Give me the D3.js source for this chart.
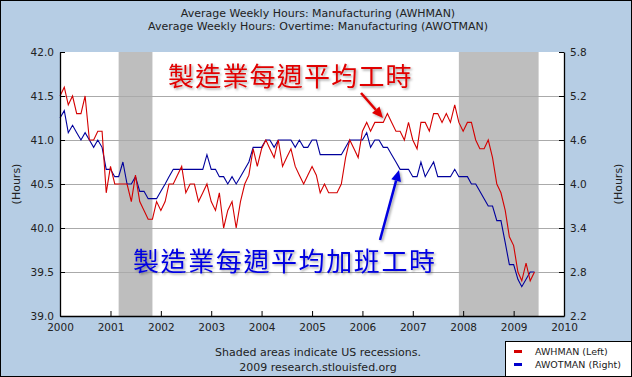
<!DOCTYPE html>
<html lang="zh-Hant">
<head>
    <meta charset="UTF-8">
    <title>Average Weekly Hours: Manufacturing</title>
    <script src="https://d3js.org/d3.v7.min.js"></script>
    <style>
        body { margin: 0; }
        svg { display: block; font-family: "DejaVu Sans", Verdana, sans-serif; }
    </style>
</head>
<body>
    <svg width="632" height="377"></svg>

    <script>
        // monthly values, Jan 2000 - Jun 2009
        let startMonth = new Date(2000, 0, 1);
        let awhman = [
            41.5, 41.6, 41.4, 41.5, 41.3, 41.3, 41.5, 41.0, 41.0, 41.1, 41.1, 40.4,
            40.7, 40.5, 40.5, 40.5, 40.5, 40.3, 40.6, 40.3, 40.2, 40.1, 40.1, 40.3,
            40.2, 40.3, 40.5, 40.5, 40.6, 40.7, 40.4, 40.5, 40.5, 40.3, 40.4, 40.5,
            40.3, 40.2, 40.4, 40.0, 40.2, 40.3, 40.0, 40.3, 40.5, 40.6, 40.9, 40.7,
            40.9, 41.0, 40.9, 40.8, 41.0, 40.7, 40.8, 40.9, 40.7, 40.6, 40.5, 40.6,
            40.7, 40.6, 40.4, 40.5, 40.4, 40.4, 40.4, 40.5, 40.8, 41.0, 40.9, 40.8,
            41.1, 41.2, 41.1, 41.2, 41.2, 41.2, 41.3, 41.2, 41.1, 41.1, 41.0, 41.2,
            41.0, 40.9, 41.2, 41.2, 41.1, 41.3, 41.3, 41.2, 41.3, 41.2, 41.4, 41.2,
            41.1, 41.2, 41.2, 41.0, 40.9, 40.9, 41.0, 40.8, 40.5, 40.4, 40.2, 39.9,
            39.8, 39.5, 39.4, 39.6, 39.4, 39.5
        ];
        let awotman = [
            4.9, 5.0, 4.7, 4.8, 4.7, 4.6, 4.7, 4.6, 4.5, 4.6, 4.5, 4.2,
            4.2, 4.1, 4.1, 4.3, 4.0, 4.0, 4.1, 3.9, 3.9, 3.8, 3.8, 3.8,
            3.9, 4.0, 4.1, 4.2, 4.2, 4.2, 4.2, 4.2, 4.2, 4.2, 4.2, 4.4,
            4.2, 4.2, 4.1, 4.1, 4.0, 4.1, 4.0, 4.1, 4.2, 4.3, 4.5, 4.5,
            4.5, 4.6, 4.6, 4.5, 4.6, 4.6, 4.6, 4.6, 4.5, 4.6, 4.5, 4.5,
            4.6, 4.6, 4.4, 4.4, 4.4, 4.4, 4.4, 4.4, 4.5, 4.6, 4.6, 4.6,
            4.6, 4.7, 4.5, 4.6, 4.6, 4.5, 4.5, 4.4, 4.3, 4.2, 4.2, 4.2,
            4.1, 4.1, 4.3, 4.1, 4.2, 4.3, 4.1, 4.1, 4.1, 4.1, 4.2, 4.1,
            4.1, 4.1, 4.0, 4.0, 3.9, 3.8, 3.7, 3.7, 3.5, 3.5, 3.2, 2.9,
            2.9, 2.7, 2.6, 2.7, 2.8, 2.8
        ];
        let recessions = [
            ["2001-03-01", "2001-11-01"],
            ["2007-12-01", "2009-07-01"]
        ];
        let leftTicks = [39.0, 39.5, 40.0, 40.5, 41.0, 41.5, 42.0];
        let rightTicks = [2.2, 2.8, 3.4, 4.0, 4.6, 5.2, 5.8];
        let years = d3.range(2000, 2011);
        let titles = [
            "Average Weekly Hours: Manufacturing (AWHMAN)",
            "Average Weekly Hours: Overtime: Manufacturing (AWOTMAN)"
        ];
        let redNote = "製造業每週平均工時";
        let blueNote = "製造業每週平均加班工時";

        let width = 632, height = 377;
        let margin = { top: 52, right: 68, bottom: 61, left: 60 };
        let lineRed = "#d40000", lineBlue = "#00009c";

        let svg = d3.select("svg");

        let defs = svg.append("defs");
        let f = defs.append("filter").attr("id", "shadow")
            .attr("x", "-10%").attr("y", "-20%").attr("width", "130%").attr("height", "160%");
        f.append("feDropShadow").attr("dx", 1.5).attr("dy", 1.5)
            .attr("stdDeviation", 1.2).attr("flood-color", "#000").attr("flood-opacity", 0.35);

        svg.append("rect")
            .attr("x", 0.5).attr("y", 0.5)
            .attr("width", width - 1).attr("height", height - 1)
            .attr("fill", "#b6cde4").attr("stroke", "#000");

        let x = d3.scaleTime()
            .domain([new Date(2000, 0, 1), new Date(2010, 0, 1)])
            .range([margin.left, width - margin.right]);
        let yL = d3.scaleLinear().domain([39, 42]).range([height - margin.bottom, margin.top]);
        let yR = d3.scaleLinear().domain([2.2, 5.8]).range([height - margin.bottom, margin.top]);

        let months = awhman.map((d, i) => d3.timeMonth.offset(startMonth, i));

        // plot background
        svg.append("rect")
            .attr("x", margin.left).attr("y", margin.top)
            .attr("width", width - margin.left - margin.right)
            .attr("height", height - margin.top - margin.bottom)
            .attr("fill", "#fff");

        // recessions
        svg.selectAll(".rec")
            .data(recessions)
            .enter().append("rect")
            .attr("x", d => x(new Date(d[0])))
            .attr("width", d => x(new Date(d[1])) - x(new Date(d[0])))
            .attr("y", margin.top)
            .attr("height", height - margin.top - margin.bottom)
            .attr("fill", "#bebebe");

        // gridlines
        svg.selectAll(".grid")
            .data(leftTicks.slice(1, -1))
            .enter().append("line")
            .attr("x1", margin.left).attr("x2", width - margin.right)
            .attr("y1", d => Math.round(yL(d)) + 0.5).attr("y2", d => Math.round(yL(d)) + 0.5)
            .attr("stroke", "#aaaaaa");

        // series
        let lineL = d3.line().x((d, i) => x(months[i])).y(d => yL(d));
        let lineR = d3.line().x((d, i) => x(months[i])).y(d => yR(d));
        svg.append("path").datum(awotman)
            .attr("d", lineR).attr("fill", "none")
            .attr("stroke", lineBlue).attr("stroke-width", 1.1);
        svg.append("path").datum(awhman)
            .attr("d", lineL).attr("fill", "none")
            .attr("stroke", lineRed).attr("stroke-width", 1.1);

        // axes
        function styleAxis(g) {
            g.selectAll("path, line").attr("stroke", "#000");
            g.selectAll("text").attr("fill", "#222").style("font-size", "10.5px")
                .style("font-family", "'DejaVu Sans', Verdana, sans-serif");
        }
        svg.append("g")
            .attr("transform", `translate(${margin.left},0)`)
            .call(d3.axisLeft(yL).tickValues(leftTicks).tickFormat(d3.format(".1f"))
                .tickSize(-5).tickSizeOuter(0).tickPadding(6))
            .call(styleAxis);
        svg.append("g")
            .attr("transform", `translate(${width - margin.right},0)`)
            .call(d3.axisRight(yR).tickValues(rightTicks).tickFormat(d3.format(".1f"))
                .tickSize(-5).tickSizeOuter(0).tickPadding(6))
            .call(styleAxis);
        svg.append("g")
            .attr("transform", `translate(0,${height - margin.bottom})`)
            .call(d3.axisBottom(x).tickValues(years.map(y => new Date(y, 0, 1)))
                .tickFormat(d3.timeFormat("%Y"))
                .tickSize(-5).tickSizeOuter(0).tickPadding(8))
            .call(styleAxis);
        svg.selectAll(".domain").attr("stroke-width", 1.3);

        // axis titles
        svg.append("text")
            .attr("transform", `translate(16,${(margin.top + height - margin.bottom) / 2}) rotate(-90)`)
            .attr("text-anchor", "middle").attr("dy", "0.35em")
            .style("font-size", "11px").attr("fill", "#222").text("(Hours)");
        svg.append("text")
            .attr("transform", `translate(618,${(margin.top + height - margin.bottom) / 2}) rotate(-90)`)
            .attr("text-anchor", "middle").attr("dy", "0.35em")
            .style("font-size", "11px").attr("fill", "#222").text("(Hours)");

        // titles
        svg.selectAll(".title")
            .data(titles)
            .enter().append("text")
            .attr("x", 318).attr("y", (d, i) => 17 + i * 13)
            .attr("text-anchor", "middle")
            .style("font-size", "11px").attr("fill", "#222")
            .text(d => d);

        // footer
        svg.append("text").attr("x", 318).attr("y", 356)
            .attr("text-anchor", "middle").style("font-size", "11px").attr("fill", "#222")
            .text("Shaded areas indicate US recessions.");
        svg.append("text").attr("x", 318).attr("y", 371)
            .attr("text-anchor", "middle").style("font-size", "11px").attr("fill", "#222")
            .text("2009 research.stlouisfed.org");

        // legend
        let lg = svg.append("g").attr("transform", "translate(505,341)");
        lg.append("rect").attr("x", 0.5).attr("y", 0.5).attr("width", 126).attr("height", 35)
            .attr("fill", "#fff").attr("stroke", "#000");
        [["AWHMAN (Left)", lineRed], ["AWOTMAN (Right)", "#0000cc"]].forEach((d, i) => {
            lg.append("rect").attr("x", 9).attr("y", 9 + i * 13).attr("width", 8).attr("height", 3)
                .attr("fill", d[1]);
            lg.append("text").attr("x", 30).attr("y", 14 + i * 13)
                .style("font-size", "9.5px").attr("fill", "#222").text(d[0]);
        });

        // annotations
        function arrow(x1, y1, x2, y2, color) {
            let a = Math.atan2(y2 - y1, x2 - x1);
            let hl = 11, hw = 5;
            let bx = x2 - hl * Math.cos(a), by = y2 - hl * Math.sin(a);
            let g = svg.append("g").attr("filter", "url(#shadow)");
            g.append("line").attr("x1", x1).attr("y1", y1).attr("x2", bx).attr("y2", by)
                .attr("stroke", color).attr("stroke-width", 2.5);
            g.append("path")
                .attr("d", `M${x2},${y2}L${bx + hw * Math.sin(a)},${by - hw * Math.cos(a)}` +
                    `L${bx - hw * Math.sin(a)},${by + hw * Math.cos(a)}Z`)
                .attr("fill", color);
        }
        svg.append("text").attr("x", 168).attr("y", 86)
            .attr("filter", "url(#shadow)")
            .style("font-family", "'Noto Sans CJK TC', sans-serif")
            .style("font-size", "26px").style("letter-spacing", "1.2px")
            .attr("fill", "#e00000").text(redNote);
        arrow(361, 93, 383, 118, "#e00000");

        svg.append("text").attr("x", 133).attr("y", 271)
            .attr("filter", "url(#shadow)")
            .style("font-family", "'Noto Sans CJK TC', sans-serif")
            .style("font-size", "26px").style("letter-spacing", "1.6px")
            .attr("fill", "#0000e0").text(blueNote);
        arrow(380, 240, 399, 170, "#0000e0");
    </script>
</body>
</html>
